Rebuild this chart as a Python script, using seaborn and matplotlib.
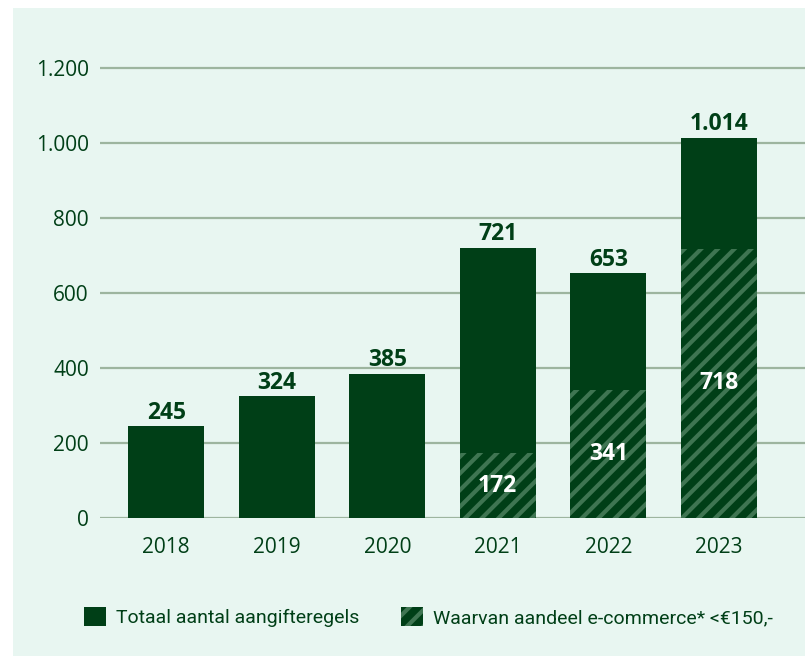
import numpy as np
import pandas as pd
import matplotlib
matplotlib.use('Agg')
import matplotlib.pyplot as plt
import matplotlib.patches as mpatches
import seaborn as sns

# Data
years = ['2018', '2019', '2020', '2021', '2022', '2023']
totaal = [245, 324, 385, 721, 653, 1014]
ecommerce = [0, 0, 0, 172, 341, 718]
y_ticks = [0, 200, 400, 600, 800, 1000, 1200]
y_tick_labels = ['0', '200', '400', '600', '800', '1.000', '1.200']

dark_green = '#003f17'
hatch_green = '#3f7552'
bg = '#e8f6f1'
grid_col = '#9db59f'

sns.set_theme(style='white')
plt.rcParams['font.family'] = ['Open Sans', 'DejaVu Sans']
plt.rcParams['hatch.linewidth'] = 3.0
plt.rcParams['hatch.color'] = hatch_green

df = pd.DataFrame({'jaar': years, 'totaal': totaal, 'ecommerce': ecommerce})

fig = plt.figure(figsize=(8.05, 6.56), dpi=100)
fig.patch.set_facecolor('white')
# mint panel
fig.patches.append(mpatches.Rectangle((13 / 805, 0), 1, 1 - 8 / 656,
                                      transform=fig.transFigure,
                                      facecolor=bg, edgecolor='none', zorder=-10))

ax = fig.add_axes([100 / 805, 1 - 518 / 656, 705 / 805, 458 / 656])
ax.set_facecolor('none')
ax.set_zorder(5)

sns.barplot(data=df, x='jaar', y='totaal', color=dark_green, width=0.69,
            saturation=1, linewidth=0, ax=ax, zorder=3)

# hatched e-commerce share
x = np.arange(len(years))
ax.bar(x, ecommerce, width=0.69, color=dark_green, hatch='//',
       edgecolor=hatch_green, linewidth=0, zorder=4)

for i, (t, e) in enumerate(zip(totaal, ecommerce)):
    lab = f'{t:,}'.replace(',', '.')
    ax.text(i, t + 4, lab, ha='center', va='bottom', fontsize=16.5,
            fontweight='bold', color=dark_green, zorder=5)
    if e > 0:
        ax.text(i, e / 2, str(e), ha='center', va='center', fontsize=16.5,
                fontweight='bold', color='white', zorder=5)

ax.set_xlim(-0.6, 5.78)
ax.set_ylim(0, 1221)
ax.set_yticks(y_ticks)
ax.set_yticklabels(y_tick_labels)
ax.yaxis.grid(True, color=grid_col, linewidth=1.6, zorder=0)
ax.set_axisbelow(True)
for s in ax.spines.values():
    s.set_visible(False)
ax.tick_params(axis='both', length=0, labelsize=15, labelcolor=dark_green)
ax.tick_params(axis='y', pad=8)
ax.tick_params(axis='x', pad=14)
ax.set_xlabel('')
ax.set_ylabel('')

h1 = mpatches.Patch(facecolor=dark_green, edgecolor='none', label='Totaal aantal aangifteregels')
h2 = mpatches.Patch(facecolor=dark_green, edgecolor=hatch_green, hatch='//', linewidth=0,
                    label='Waarvan aandeel e-commerce* <€150,-')
fig.legend(handles=[h1, h2], loc='center left', bbox_to_anchor=(76 / 805, 1 - 617 / 656),
           ncol=2, frameon=False, labelcolor=dark_green, borderaxespad=0,
           prop={'family': ['Roboto', 'DejaVu Sans'], 'size': 14},
           handlelength=1.13, handleheight=1.15, handletextpad=0.55, columnspacing=2.1)

fig.savefig('out.png', dpi=100, facecolor='white')
